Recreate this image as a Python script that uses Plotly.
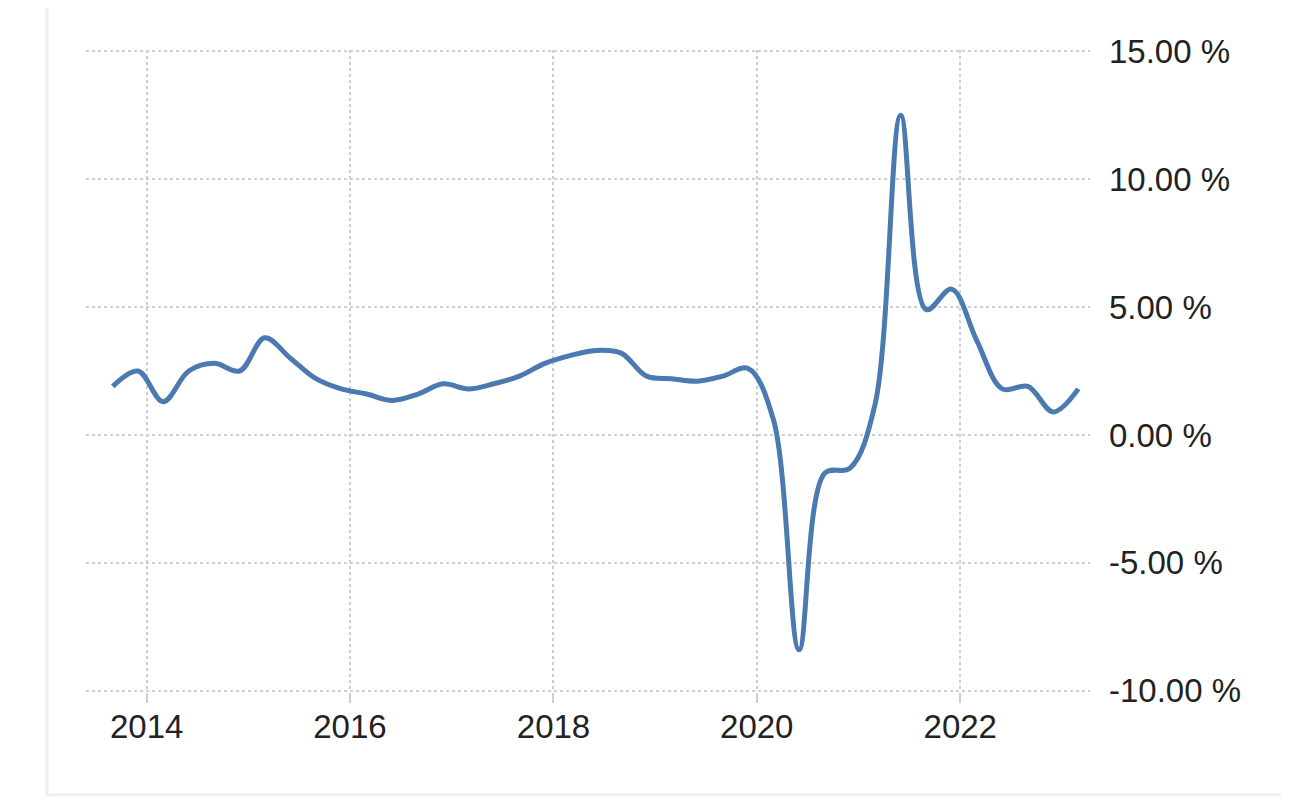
import plotly.graph_objects as go

# Quarterly data (year-on-year growth, %)
dates = [
    "2013-09-01", "2013-12-01",
    "2014-03-01", "2014-06-01", "2014-09-01", "2014-12-01",
    "2015-03-01", "2015-06-01", "2015-09-01", "2015-12-01",
    "2016-03-01", "2016-06-01", "2016-09-01", "2016-12-01",
    "2017-03-01", "2017-06-01", "2017-09-01", "2017-12-01",
    "2018-03-01", "2018-06-01", "2018-09-01", "2018-12-01",
    "2019-03-01", "2019-06-01", "2019-09-01", "2019-12-01",
    "2020-03-01", "2020-06-01", "2020-09-01", "2020-12-01",
    "2021-03-01", "2021-06-01", "2021-09-01", "2021-12-01",
    "2022-03-01", "2022-06-01", "2022-09-01", "2022-12-01",
    "2023-03-01",
]
growth = [
    1.9, 2.5,
    1.3, 2.5, 2.8, 2.5,
    3.8, 3.0, 2.2, 1.8,
    1.6, 1.35, 1.6, 2.0,
    1.8, 2.0, 2.3, 2.8,
    3.1, 3.3, 3.2, 2.3,
    2.2, 2.1, 2.3, 2.6,
    0.6, -8.4, -1.5, -1.3,
    1.2, 12.5, 4.9, 5.7,
    3.7, 1.8, 1.9, 0.9,
    1.8,
]
x_tick_vals = ["2014-01-01", "2016-01-01", "2018-01-01", "2020-01-01", "2022-01-01"]
x_tick_text = ["2014", "2016", "2018", "2020", "2022"]
y_tick_vals = [-10, -5, 0, 5, 10, 15]
y_tick_text = ["-10.00 %", "-5.00 %", "0.00 %", "5.00 %", "10.00 %", "15.00 %"]

fig = go.Figure()
fig.add_trace(go.Scatter(
    x=dates, y=growth, mode="lines",
    line=dict(color="#4a7ab0", width=5, shape="spline", smoothing=1.0),
    hoverinfo="x+y", showlegend=False,
))

font_family = "Liberation Sans, Arial, sans-serif"

# The page body has an 8px margin, so the figure is sized/offset to compensate.
fig.update_layout(
    width=1273, height=788,
    margin=dict(l=78, r=191, t=42, b=104),
    paper_bgcolor="white", plot_bgcolor="white",
    font=dict(family=font_family, size=33, color="#222222"),
    xaxis=dict(
        type="date", automargin=False,
        range=["2013-05-28", "2023-04-12"],
        tickvals=x_tick_vals, ticktext=x_tick_text,
        showgrid=True, gridcolor="#cfcfcf", griddash="dot", gridwidth=1.5,
        ticks="outside", ticklen=10, tickcolor="#cfcfcf", tickwidth=1.5,
        showline=False, zeroline=False,
        ticklabelstandoff=-5,
        tickfont=dict(size=33, color="#222222"),
    ),
    yaxis=dict(
        side="right", automargin=False,
        range=[-10.05, 15.05],
        tickvals=y_tick_vals, ticktext=y_tick_text,
        showgrid=True, gridcolor="#cfcfcf", griddash="dot", gridwidth=1.5,
        ticks="", showline=False, zeroline=False,
        ticklabelstandoff=18,
        tickfont=dict(size=33, color="#222222"),
    ),
    shapes=[
        dict(type="line", xref="paper", yref="paper",
             x0=-0.0388, x1=-0.0388, y0=1.1, y1=-0.1604,
             line=dict(color="#eeeeee", width=3)),
        dict(type="line", xref="paper", yref="paper",
             x0=-0.0403, x1=1.25, y0=-0.1604, y1=-0.1604,
             line=dict(color="#eeeeee", width=3)),
    ],
)

fig.write_html("out.html")
